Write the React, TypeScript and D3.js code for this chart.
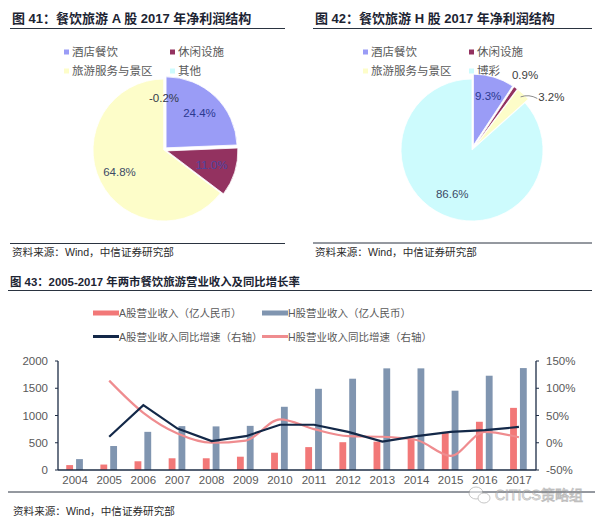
import React from 'react';
import * as d3 from 'd3';

const FONT = "'Liberation Sans', 'Noto Sans CJK SC', sans-serif";

// Figure 41 / 42: 2017 net profit structure
const segmentsA = ['酒店餐饮', '休闲设施', '旅游服务与景区', '其他'];
const shareA = [24.4, 11.0, 64.8, -0.2];
const segmentsH = ['酒店餐饮', '休闲设施', '旅游服务与景区', '博彩'];
const shareH = [9.3, 0.9, 3.2, 86.6];
const sliceColors = ['#9a9cf6', '#933260', '#fdfdc9', '#cdfbfd'];

// Figure 43: revenue and YoY growth
const years = ['2004', '2005', '2006', '2007', '2008', '2009', '2010', '2011', '2012', '2013', '2014', '2015', '2016', '2017'];
const revenueA = [90, 100, 160, 215, 215, 244, 317, 420, 510, 520, 580, 700, 885, 1140];
const revenueH = [200, 440, 700, 805, 800, 810, 1160, 1490, 1675, 1865, 1865, 1455, 1730, 1870];
const growthA: (number | null)[] = [null, 11, 69, 26, 3, 12, 33, 33, 20, 2, 12, 20, 23, 29];
const growthH: (number | null)[] = [null, 114, 55, 17, 0, 4, 43, 25, 12, 11, 5, -24, 20, 10];
const leftTicks = [0, 500, 1000, 1500, 2000];
const rightTicks = [-50, 0, 50, 100, 150];
const barLegend = ['A股营业收入（亿人民币）', 'H股营业收入（亿人民币）'];
const lineLegend = ['A股营业收入同比增速（右轴）', 'H股营业收入同比增速（右轴）'];

const COLOR_A = '#f27878';
const COLOR_H = '#8095b0';
const COLOR_LINE_A = '#132848';
const COLOR_LINE_H = '#ef8c8f';
const AXIS = '#1d2c45';
const SOURCE = '资料来源：Wind，中信证券研究部';

type LabelSpec = { mode: 'in' | 'out'; rf: number; shift?: number; color: string; leader?: boolean };

function Pie(props: {
  cx: number; cy: number; r: number; values: number[]; explode: number[]; labels: LabelSpec[];
}) {
  const { cx, cy, r, values, explode, labels } = props;
  const pie = d3.pie<number>().sort(null).value((v) => Math.max(0, v));
  const arcs = pie(values);
  const arc = d3.arc<d3.PieArcDatum<number>>().innerRadius(0).outerRadius(r);
  const polar = (ang: number, rad: number) => [Math.sin(ang) * rad, -Math.cos(ang) * rad];
  return (
    <g transform={`translate(${cx},${cy})`}>
      {arcs.map((a, i) => {
        const mid = (a.startAngle + a.endAngle) / 2;
        const [ox, oy] = polar(mid, explode[i]);
        return (
          <path key={i} d={arc(a) || ''} fill={sliceColors[i]} stroke="#ffffff" strokeWidth={0.8}
            transform={`translate(${ox},${oy})`} />
        );
      })}
      {arcs.map((a, i) => {
        const spec = labels[i];
        const mid = (a.startAngle + a.endAngle) / 2;
        const ang = mid + ((spec.shift || 0) * Math.PI) / 180;
        const [lx, ly] = polar(ang, r * spec.rf);
        const [ox, oy] = polar(mid, explode[i]);
        const text = `${values[i].toFixed(1)}%`;
        let leader = null;
        if (spec.leader) {
          const [sx, sy] = polar(mid, r + 1);
          const ex = lx - 14;
          const ey = ly + 1;
          leader = (
            <path d={`M${sx},${sy} Q${(sx + ex) / 2},${sy - 3} ${ex},${ey}`} fill="none" stroke="#8c8c8c" strokeWidth={1} />
          );
        }
        return (
          <g key={'l' + i}>
            {leader}
            <text x={spec.mode === 'in' ? lx + ox : lx} y={spec.mode === 'in' ? ly + oy : ly}
              textAnchor="middle" dominantBaseline="central" fontSize={11.5} fill={spec.color} fontFamily={FONT}>
              {text}
            </text>
          </g>
        );
      })}
    </g>
  );
}

function PieLegend(props: { x: number; y: number; names: string[] }) {
  const { x, y, names } = props;
  const colX = [0, 106];
  const rowY = [0, 19];
  return (
    <g>
      {names.map((n, i) => {
        const px = x + colX[i % 2];
        const py = y + rowY[Math.floor(i / 2)];
        return (
          <g key={i}>
            <rect x={px - 3} y={py - 2.5} width={5} height={5} fill={sliceColors[i]} />
            <text x={px + 5} y={py} dominantBaseline="central" fontSize={11.5} fill="#595959" fontFamily={FONT}>{n}</text>
          </g>
        );
      })}
    </g>
  );
}

function Heading(props: { x: number; y: number; x2: number; lineY: number; text: string; size: number }) {
  return (
    <g>
      <text x={props.x} y={props.y} fontSize={props.size} fontWeight="bold" fill="#1c2433" fontFamily={FONT}>{props.text}</text>
      <line x1={props.x - 2} x2={props.x2} y1={props.lineY} y2={props.lineY} stroke="#2a3340" strokeWidth={1.2} />
    </g>
  );
}

function Source(props: { x: number; y: number; x2: number; lineY: number }) {
  return (
    <g>
      <line x1={props.x - 2} x2={props.x2} y1={props.lineY} y2={props.lineY} stroke="#2a3340" strokeWidth={1} />
      <text x={props.x} y={props.y} fontSize={10.6} fill="#2b2b2b" fontFamily={FONT}>{SOURCE}</text>
    </g>
  );
}

function ComboChart() {
  const left = 58;
  const right = 536;
  const top = 361;
  const bottom = 470;
  const x = d3.scaleBand<string>().domain(years).range([left, right]).paddingInner(0).paddingOuter(0);
  const yL = d3.scaleLinear().domain([0, 2000]).range([bottom, top]);
  const yR = d3.scaleLinear().domain([-50, 150]).range([bottom, top]);
  const bw = x.bandwidth() * 0.2;
  const cx = (y: string) => (x(y) || 0) + x.bandwidth() / 2;

  const lineA = d3.line<number | null>()
    .defined((d) => d !== null)
    .x((_, i) => cx(years[i]))
    .y((d) => yR(d as number));
  const lineH = d3.line<number | null>()
    .defined((d) => d !== null)
    .x((_, i) => cx(years[i]))
    .y((d) => yR(d as number))
    .curve(d3.curveMonotoneX);

  return (
    <g fontFamily={FONT}>
      {/* legend */}
      <g fontSize={10.5} fill="#595959">
        <rect x={93} y={310.5} width={26} height={5} fill={COLOR_A} />
        <text x={119} y={313} dominantBaseline="central">{barLegend[0]}</text>
        <rect x={262} y={310.5} width={26} height={5} fill={COLOR_H} />
        <text x={288} y={313} dominantBaseline="central">{barLegend[1]}</text>
        <line x1={93} x2={119} y1={336.5} y2={336.5} stroke={COLOR_LINE_A} strokeWidth={3} />
        <text x={119} y={336.5} dominantBaseline="central">{lineLegend[0]}</text>
        <line x1={262} x2={288} y1={336.5} y2={336.5} stroke={COLOR_LINE_H} strokeWidth={3} />
        <text x={288} y={336.5} dominantBaseline="central">{lineLegend[1]}</text>
      </g>

      {/* bars */}
      {years.map((yr, i) => (
        <g key={yr}>
          <rect x={cx(yr) - bw - 2} y={yL(revenueA[i])} width={bw} height={bottom - yL(revenueA[i])} fill={COLOR_A} />
          <rect x={cx(yr) + 1} y={yL(revenueH[i])} width={bw} height={bottom - yL(revenueH[i])} fill={COLOR_H} />
        </g>
      ))}

      {/* growth lines */}
      <path d={lineH(growthH) || ''} fill="none" stroke={COLOR_LINE_H} strokeWidth={2.2} />
      <path d={lineA(growthA) || ''} fill="none" stroke={COLOR_LINE_A} strokeWidth={2.2} />

      {/* axes */}
      <line x1={left} x2={left} y1={top} y2={bottom} stroke={AXIS} strokeWidth={1.3} />
      <line x1={right} x2={right} y1={top} y2={bottom} stroke={AXIS} strokeWidth={1.3} />
      <line x1={left} x2={right} y1={bottom} y2={bottom} stroke={AXIS} strokeWidth={1.3} />
      {leftTicks.map((t) => (
        <g key={'l' + t}>
          <line x1={left - 3} x2={left} y1={yL(t)} y2={yL(t)} stroke={AXIS} strokeWidth={1} />
          <text x={left - 10} y={yL(t)} textAnchor="end" dominantBaseline="central" fontSize={11.5} fill="#595959">{t}</text>
        </g>
      ))}
      {rightTicks.map((t) => (
        <g key={'r' + t}>
          <line x1={right} x2={right + 3} y1={yR(t)} y2={yR(t)} stroke={AXIS} strokeWidth={1} />
          <text x={right + 10} y={yR(t)} dominantBaseline="central" fontSize={11.5} fill="#595959">{`${t}%`}</text>
        </g>
      ))}
      {years.map((yr) => (
        <text key={'x' + yr} x={cx(yr)} y={480} textAnchor="middle" dominantBaseline="central" fontSize={11.5} fill="#595959">{yr}</text>
      ))}
    </g>
  );
}

export default function App() {
  return (
    <svg width={600} height={520} viewBox="0 0 600 520"
      style={{ position: 'absolute', left: 0, top: 0, background: '#ffffff' }}>
      <rect x={0} y={0} width={600} height={520} fill="#ffffff" />

      {/* figure 41 */}
      <Heading x={12} y={23} x2={285} lineY={28.5} text="图 41：餐饮旅游 A 股 2017 年净利润结构" size={13} />
      <PieLegend x={67} y={52} names={segmentsA} />
      <Pie cx={164} cy={150} r={71} values={shareA} explode={[3, 3, 0, 0]}
        labels={[
          { mode: 'in', rf: 0.68, color: '#2b3990' },
          { mode: 'in', rf: 0.66, color: '#4b45a0' },
          { mode: 'in', rf: 0.7, color: '#3c4a66' },
          { mode: 'in', rf: 0.73, color: '#333a4a' },
        ]} />
      <Source x={12} y={256} x2={285} lineY={243.5} />

      {/* figure 42 */}
      <Heading x={315} y={23} x2={592} lineY={28.5} text="图 42：餐饮旅游 H 股 2017 年净利润结构" size={13} />
      <PieLegend x={366} y={52} names={segmentsH} />
      <Pie cx={472} cy={150} r={71} values={shareH} explode={[5, 5, 5, 0]}
        labels={[
          { mode: 'in', rf: 0.72, color: '#2b3990' },
          { mode: 'out', rf: 1.3, color: '#404040' },
          { mode: 'out', rf: 1.34, shift: 14, color: '#404040', leader: true },
          { mode: 'in', rf: 0.68, color: '#3c4a66' },
        ]} />
      <Source x={315} y={256} x2={592} lineY={243} />

      {/* figure 43 */}
      <Heading x={10} y={286} x2={592} lineY={290.5} text="图 43：2005-2017 年两市餐饮旅游营业收入及同比增长率" size={11.4} />
      <ComboChart />
      <line x1={8} x2={595} y1={492} y2={492} stroke="#2a3340" strokeWidth={1} />
      <text x={13} y={515} fontSize={10.6} fill="#2b2b2b" fontFamily={FONT}>{SOURCE}</text>

      {/* watermark */}
      <g opacity={0.55}>
        <ellipse cx={476} cy={493} rx={7} ry={6} fill="#ffffff" stroke="#9a9a9a" strokeWidth={1} />
        <ellipse cx={484} cy={498} rx={6} ry={5} fill="#ffffff" stroke="#9a9a9a" strokeWidth={1} />
        <text x={495} y={500} fontSize={14} fill="#ffffff" stroke="#8a8a8a" strokeWidth={0.8} fontFamily={FONT}>CITICS策略组</text>
      </g>
    </svg>
  );
}
